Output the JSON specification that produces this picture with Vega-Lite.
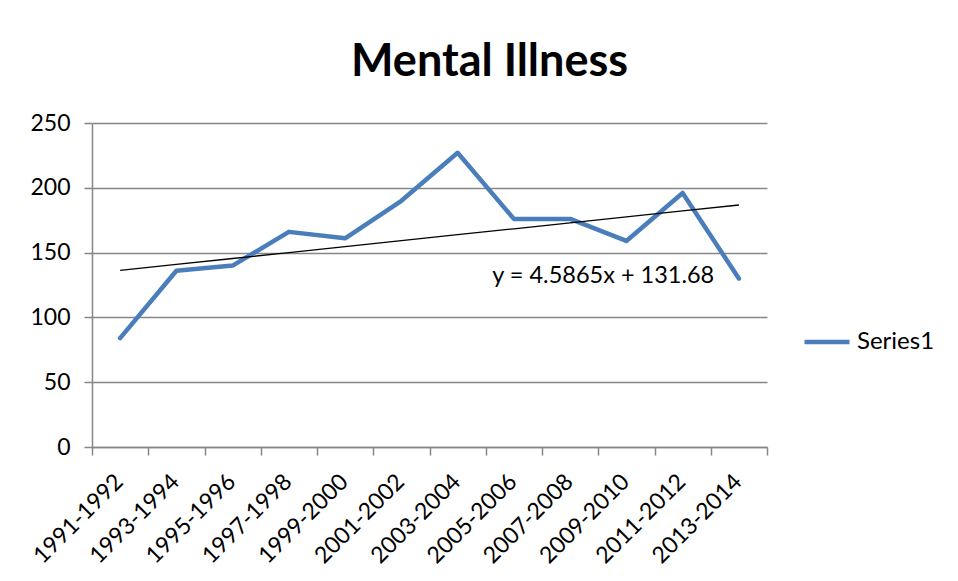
{
  "$schema": "https://vega.github.io/schema/vega-lite/v6.json",
  "autosize": "none",
  "width": 675,
  "height": 324,
  "padding": {"left": 92, "top": 123, "right": 191, "bottom": 134},
  "background": "white",
  "config": {
    "font": "Lato",
    "view": {"stroke": null},
    "axis": {"domainColor": "#868686", "tickColor": "#868686", "gridColor": "#868686", "labelColor": "black", "labelFont": "Lato", "labelFontSize": 23, "domainWidth": 1.5, "tickWidth": 1.5, "tickSize": 8}
  },
  "title": {"text": "Mental Illness", "fontSize": 45, "fontWeight": "bold", "font": "Lato", "color": "black", "anchor": "middle", "dx": 60, "offset": 27},
  "data": {"values": [
    {"period": "1991-1992", "value": 84, "trend": 136.27, "series": "Series1"},
    {"period": "1993-1994", "value": 136, "trend": 140.85, "series": "Series1"},
    {"period": "1995-1996", "value": 140, "trend": 145.44, "series": "Series1"},
    {"period": "1997-1998", "value": 166, "trend": 150.03, "series": "Series1"},
    {"period": "1999-2000", "value": 161, "trend": 154.61, "series": "Series1"},
    {"period": "2001-2002", "value": 190, "trend": 159.20, "series": "Series1"},
    {"period": "2003-2004", "value": 227, "trend": 163.79, "series": "Series1"},
    {"period": "2005-2006", "value": 176, "trend": 168.37, "series": "Series1"},
    {"period": "2007-2008", "value": 176, "trend": 172.96, "series": "Series1"},
    {"period": "2009-2010", "value": 159, "trend": 177.54, "series": "Series1"},
    {"period": "2011-2012", "value": 196, "trend": 182.13, "series": "Series1"},
    {"period": "2013-2014", "value": 130, "trend": 186.72, "series": "Series1"}
  ]},
  "encoding": {
    "x": {"field": "period", "type": "nominal", "sort": null, "bandPosition": 0.5,
      "scale": {"type": "band", "paddingInner": 0, "paddingOuter": 0},
      "axis": {"title": null, "labelAngle": -45, "tickBand": "extent", "grid": false, "labelPadding": 15, "labelOffset": -9}}
  },
  "layer": [
    {
      "mark": {"type": "line", "strokeWidth": 4.5, "strokeCap": "round", "strokeJoin": "round"},
      "encoding": {
        "y": {"field": "value", "type": "quantitative", "scale": {"domain": [0, 250], "nice": false},
          "axis": {"title": null, "values": [0, 50, 100, 150, 200, 250], "grid": true, "gridWidth": 1.5, "labelPadding": 14}},
        "color": {"field": "series", "type": "nominal", "scale": {"range": ["#4A7EBB"]},
          "legend": {"title": null, "orient": "none", "legendX": 710, "legendY": 194, "symbolType": "stroke", "symbolSize": 2025, "symbolStrokeWidth": 4.5, "labelFontSize": 24, "labelFont": "Lato", "labelColor": "black", "symbolOffset": 0, "labelOffset": 5}}
      }
    },
    {
      "mark": {"type": "line", "color": "black", "strokeWidth": 1.3},
      "encoding": {
        "y": {"field": "trend", "type": "quantitative"}
      }
    },
    {
      "data": {"values": [{"period": "2009-2010", "value": 132, "label": "y = 4.5865x + 131.68"}]},
      "mark": {"type": "text", "fontSize": 23.5, "font": "Lato", "color": "black", "align": "center", "baseline": "middle", "dx": 5},
      "encoding": {
        "x": {"field": "period", "type": "nominal", "bandPosition": 0},
        "y": {"field": "value", "type": "quantitative"},
        "text": {"field": "label"}
      }
    }
  ]
}
